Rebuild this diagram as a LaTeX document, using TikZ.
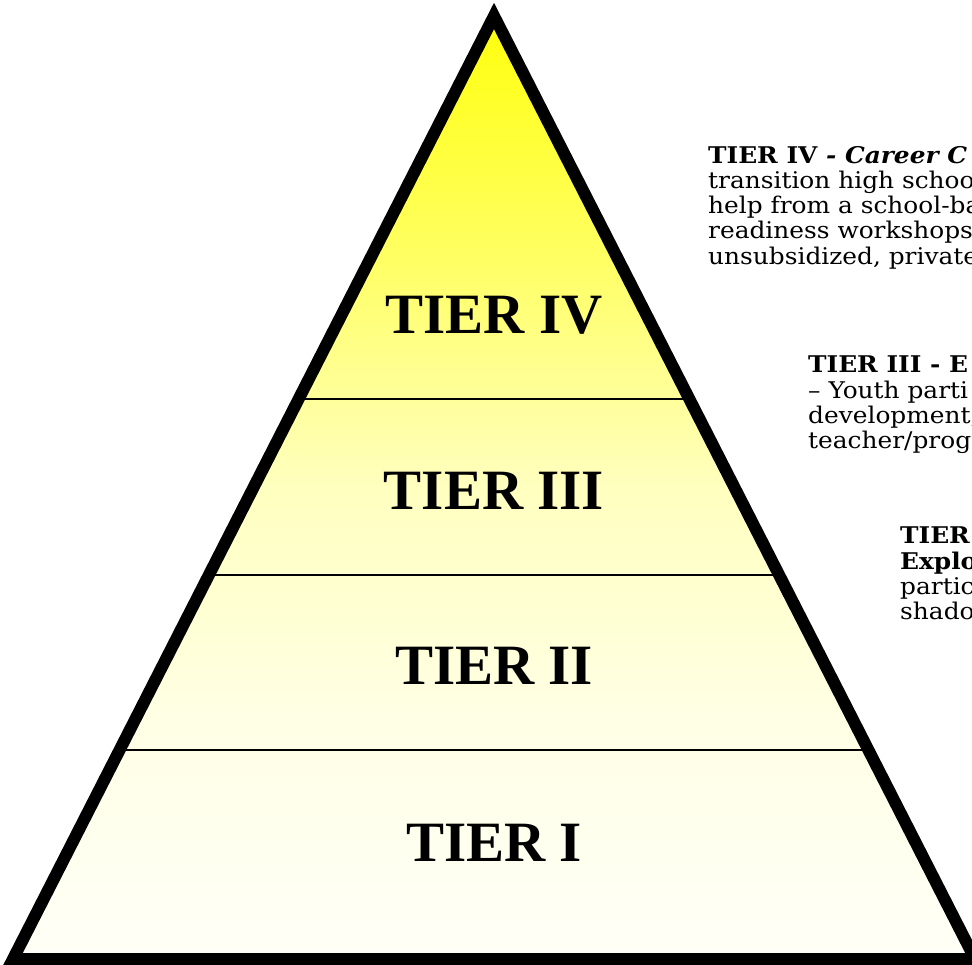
\documentclass[tikz,border=0pt]{standalone}
\usepackage{fontspec}
\setmainfont{Liberation Serif}
\newfontfamily\notefont[FakeStretch=1.08]{DejaVu Serif}
\usetikzlibrary{calc}
\pgfdeclareverticalshading{tiershade}{100bp}{%
  color(0bp)=(yellow!3!white); color(25bp)=(yellow!3!white);
  color(37.5bp)=(yellow!10!white); color(50bp)=(yellow!25!white);
  color(62.5bp)=(yellow!62!white); color(75bp)=(yellow!95!white);
  color(100bp)=(yellow!95!white)}
\tikzset{
  tierlabel/.style={font=\fontsize{57}{60}\selectfont\bfseries, inner sep=0pt},
  tiernote/.style={font=\notefont\fontsize{23}{25.2}\selectfont, align=left,
    anchor=north west, inner sep=0pt},
  tierline/.style={line width=1.5pt},
  tieredge/.style={line width=12pt, line join=miter, miter limit=10}
}
\begin{document}
\begin{tikzpicture}[x=1pt, y=-1pt]
  \useasboundingbox (0,0) rectangle (972,965);
  \clip (0,0) rectangle (972,965);

  % corners of the pyramid
  \coordinate (apex) at (494,16);
  \coordinate (bl) at (13,959);
  \coordinate (br) at (975,959);

  % dividers between the tiers
  \coordinate (l1) at ($(apex)!0.4062!(bl)$);
  \coordinate (r1) at ($(apex)!0.4062!(br)$);
  \coordinate (l2) at ($(apex)!0.5928!(bl)$);
  \coordinate (r2) at ($(apex)!0.5928!(br)$);
  \coordinate (l3) at ($(apex)!0.7784!(bl)$);
  \coordinate (r3) at ($(apex)!0.7784!(br)$);

  % draw pyramid
  \shade[shading=tiershade] (apex) -- (bl) -- (br) -- cycle;
  \draw[tierline] (l1) -- (r1);
  \draw[tierline] (l2) -- (r2);
  \draw[tierline] (l3) -- (r3);
  \draw[tieredge] (apex) -- (bl) -- (br) -- cycle;

  % tier names
  \node[tierlabel] (t4) at (494,315) {TIER IV};
  \node[tierlabel] (t3) at (494,491) {TIER III};
  \node[tierlabel] (t2) at (494,666) {TIER II};
  \node[tierlabel] (t1) at (494,843) {TIER I};

  % notes on the right
  \node[tiernote] (n4) at (708,146) {\textbf{TIER IV \textit{- Career C}}\\
    transition high schoo\\
    help from a school-ba\\
    readiness workshops\\
    unsubsidized, private};
  \node[tiernote] (n3) at (808,356) {\textbf{TIER III - E}\\
    – Youth parti\\
    development,\\
    teacher/progr};
  \node[tiernote] (n2) at (900,527) {\textbf{TIER}\\
    \textbf{Explo}\\
    partic\\
    shado};
\end{tikzpicture}
\end{document}
